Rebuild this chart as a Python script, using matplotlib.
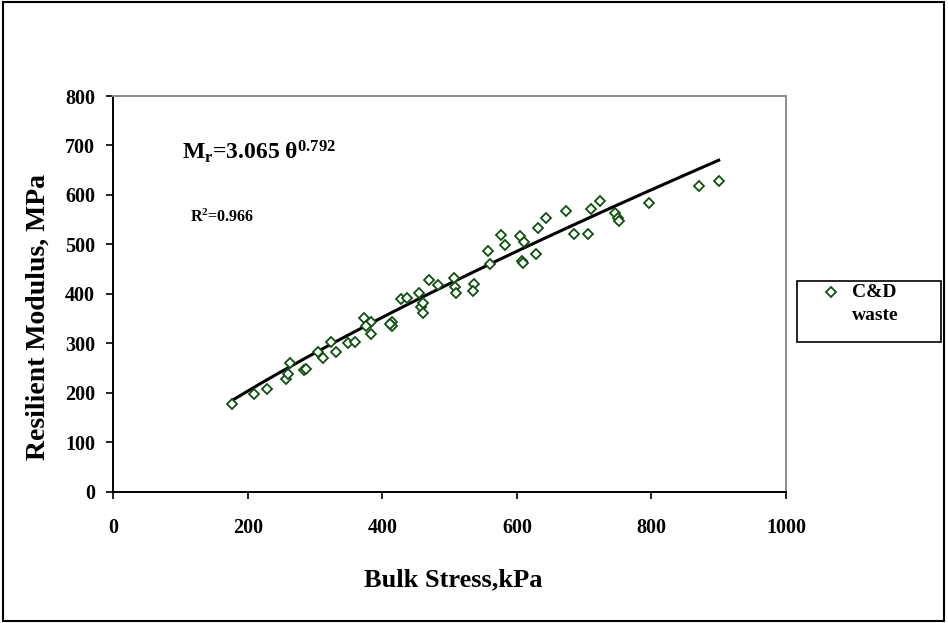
import numpy as np
import matplotlib
matplotlib.use("Agg")
import matplotlib.pyplot as plt
from matplotlib.patches import Rectangle
from matplotlib.lines import Line2D

plt.rcParams['font.family'] = ['Liberation Serif', 'DejaVu Serif']
plt.rcParams['font.weight'] = 'bold'
plt.rcParams['mathtext.fontset'] = 'custom'
plt.rcParams['mathtext.rm'] = 'Liberation Serif:bold'
plt.rcParams['mathtext.it'] = 'Liberation Serif:bold'
plt.rcParams['mathtext.bf'] = 'Liberation Serif:bold'

# Data
bulk_stress = [177, 209, 228, 263, 257, 259, 283, 286, 304, 312, 323, 331, 349, 359,
               373, 383, 376, 383, 414, 414, 412, 427, 437, 455, 457, 460, 461, 469,
               483, 506, 508, 510, 536, 535, 557, 560, 608, 609, 577, 583, 604, 610,
               631, 643, 629, 673, 685, 705, 710, 724, 746, 751, 752, 797, 870, 900]
resilient_modulus = [177, 198, 207, 260, 227, 238, 247, 249, 282, 270, 302, 282, 301, 303,
                     351, 344, 335, 318, 344, 335, 339, 390, 392, 402, 374, 381, 361, 429,
                     418, 433, 414, 402, 419, 406, 487, 460, 466, 462, 518, 499, 516, 504,
                     533, 554, 481, 568, 521, 520, 572, 587, 563, 553, 548, 584, 618, 629]
fit_a = 3.065
fit_b = 0.792
r_squared = 0.966
series_name = "C&D\nwaste"
x_ticks = [0, 200, 400, 600, 800, 1000]
y_ticks = [0, 100, 200, 300, 400, 500, 600, 700, 800]

W, H = 948, 623
fig = plt.figure(figsize=(W / 100, H / 100), dpi=100)
ax = fig.add_axes([113.3 / W, 1 - 491.7 / H, (786 - 113.3) / W, (491.7 - 96) / H])

green = '#0f4f0f'
ax.plot(bulk_stress, resilient_modulus, linestyle='none', marker='D', markersize=5.2,
        markerfacecolor='white', markeredgecolor=green, markeredgewidth=1.3, zorder=3)

xs = np.sort(np.array(bulk_stress, dtype=float))
ax.plot(xs, fit_a * xs ** fit_b, color='black', lw=2.2, zorder=2)

ax.set_xlim(x_ticks[0], x_ticks[-1])
ax.set_ylim(y_ticks[0], y_ticks[-1])
ax.set_xticks(x_ticks)
ax.set_yticks(y_ticks)
ax.tick_params(axis='both', direction='out', length=5, width=1.2, labelsize=14.5,
               colors='black', pad=6)
ax.tick_params(axis='x', pad=14)
ax.tick_params(axis='y', pad=8)
for lab in ax.get_xticklabels() + ax.get_yticklabels():
    lab.set_fontweight('bold')
for s in ['left', 'bottom']:
    ax.spines[s].set_color('black')
    ax.spines[s].set_linewidth(1.4)
for s in ['top', 'right']:
    ax.spines[s].set_color('#8c8c8c')
    ax.spines[s].set_linewidth(1.4)

ax.text(102, 673, r'M$_\mathrm{r}$=3.065 θ$^\mathrm{0.792}$', fontsize=17,
        fontweight='bold', va='baseline', ha='left')
ax.text(114, 546, r'R$^\mathrm{2}$=0.966', fontsize=11.5, fontweight='bold',
        va='baseline', ha='left')

fig.text(453 / W, 1 - 580 / H, 'Bulk Stress,kPa', fontsize=19, fontweight='bold',
         ha='center', va='center')
fig.text(38 / W, 1 - 317 / H, 'Resilient Modulus, MPa', fontsize=20, fontweight='bold',
         ha='center', va='center', rotation=90)

# legend box
fig.add_artist(Rectangle((797 / W, 1 - 342 / H), (941 - 797) / W, (342 - 281) / H,
                         transform=fig.transFigure, fill=False, edgecolor='black', lw=1.2))
fig.add_artist(Line2D([831 / W], [1 - 292 / H], transform=fig.transFigure, marker='D',
                      markersize=5.2, markerfacecolor='white', markeredgecolor=green,
                      markeredgewidth=1.3, linestyle='none'))
fig.text(852 / W, 1 - 292 / H, series_name.split('\n')[0], fontsize=14, fontweight='bold',
         ha='left', va='center')
fig.text(852 / W, 1 - 315 / H, series_name.split('\n')[1], fontsize=14, fontweight='bold',
         ha='left', va='center')

# outer border
fig.add_artist(Rectangle((3 / W, 2 / H), (944 - 3) / W, (621 - 2) / H,
                         transform=fig.transFigure, fill=False, edgecolor='black', lw=1.5))

fig.savefig('out.png', dpi=100)
